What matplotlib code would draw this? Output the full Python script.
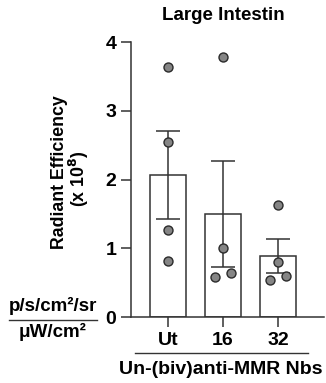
import matplotlib
matplotlib.use("Agg")
import matplotlib.pyplot as plt

plt.rcParams['font.family'] = ['Liberation Sans', 'DejaVu Sans']
plt.rcParams['font.weight'] = 'bold'

# data
groups = ["Ut", "16", "32"]
means = [2.07, 1.50, 0.89]
sem = [0.64, 0.77, 0.25]
pts_ut = [3.64, 2.55, 1.27, 0.81]
pts_16 = [3.78, 1.01, 0.58, 0.64]
pts_32 = [1.63, 0.80, 0.54, 0.60]
jit_ut = [0.0, 0.0, 0.0, 0.0]
jit_16 = [0.0, 0.0, -0.15, 0.15]
jit_32 = [0.0, 0.0, -0.15, 0.15]

ink = "#333333"

fig = plt.figure(figsize=(3.26, 3.83), dpi=100)
ax = fig.add_axes([0.402, 0.172, 0.592, 0.718])

x = range(len(groups))
ax.bar(x, means, width=0.66, color="white", edgecolor=ink, linewidth=1.1, zorder=1)
ax.errorbar(x, means, yerr=sem, fmt="none", ecolor=ink, elinewidth=1.1,
            capsize=8.5, capthick=1.1, zorder=2)
for i, (pts, jit) in enumerate([(pts_ut, jit_ut), (pts_16, jit_16), (pts_32, jit_32)]):
    ax.scatter([i + j for j in jit], pts, s=42, color="#858585",
               edgecolor="#2a2a2a", linewidth=1.0, zorder=3)

ax.set_xlim(-0.67, 2.84)
ax.set_ylim(0, 4)
ax.set_yticks([0, 1, 2, 3, 4])
ax.set_xticks(list(x))
ax.set_xticklabels(groups)
ax.tick_params(axis="both", labelsize=14, width=1.1, length=7, color=ink)
ax.tick_params(axis="x", pad=4)
for lab in ax.get_xticklabels() + ax.get_yticklabels():
    lab.set_fontweight("bold")
ax.spines["top"].set_visible(False)
ax.spines["right"].set_visible(False)
ax.spines["left"].set_color(ink)
ax.spines["bottom"].set_color(ink)
ax.spines["left"].set_linewidth(1.1)
ax.spines["bottom"].set_linewidth(1.1)

fig.text(223 / 326, 1 - 15 / 383, "Large Intestin", ha="center", va="center",
         fontsize=13.5, fontweight="bold")
fig.text(59 / 326, 1 - 172 / 383, "Radiant Efficiency", rotation=90,
         ha="center", va="center", fontsize=12.8, fontweight="bold")
fig.text(79 / 326, 1 - 179 / 383, r"(x 10$^{\mathbf{8}}$)", rotation=90,
         ha="center", va="center", fontsize=12.8, fontweight="bold")

fig.text(53 / 326, 1 - 306 / 383, "p/s/cm²/sr", ha="center", va="center",
         fontsize=13.5, fontweight="bold")
fig.add_artist(plt.Line2D([9 / 326, 97 / 326], [1 - 320 / 383, 1 - 320 / 383],
                          color=ink, linewidth=1.0))
fig.text(53 / 326, 1 - 332 / 383, "\u03bcW/cm²", ha="center", va="center",
         fontsize=13.5, fontweight="bold")

fig.add_artist(plt.Line2D([135 / 326, 308 / 326], [1 - 353 / 383, 1 - 353 / 383],
                          color=ink, linewidth=1.0))
fig.text(221 / 326, 1 - 370 / 383, "Un-(biv)anti-MMR Nbs", ha="center", va="center",
         fontsize=14, fontweight="bold")

fig.savefig("out.png", dpi=100)
